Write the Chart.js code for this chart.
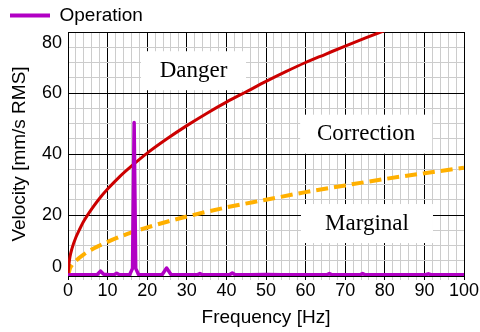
<!DOCTYPE html>
<html>
<head>
<meta charset="utf-8">
<title>Vibration velocity vs frequency</title>
<script src="https://cdn.jsdelivr.net/npm/chart.js@4.4.1/dist/chart.umd.min.js"></script>
<style>
    html, body { margin: 0; padding: 0; background: #fff; }
    #wrap { position: relative; width: 480px; height: 332px; }
</style>
</head>
<body>
<div id="wrap"><canvas id="chart"></canvas></div>
<script>
// Values

// Measured spectrum (purple)
const specFreq = [0, 1, 2, 4, 6, 7.4, 8.2, 9, 10.5, 11.6, 12.3, 13, 15.6, 16.3, 16.7, 17.1, 17.8, 20, 23.8, 24.9,
    26, 29, 32.6, 33.3, 34, 37, 40.8, 41.5, 42.2, 46, 50, 54, 58, 65.3, 66, 66.7, 70, 73.7, 74.4, 75.1,
    80, 85, 90.3, 91, 91.7, 96, 100];
const specVel = [0.3, 0.4, 0.4, 0.4, 0.4, 0.5, 1.6, 0.6, 0.4, 0.4, 0.9, 0.4, 0.5, 2.5, 50.3, 2.5, 0.5, 0.4, 0.5, 2.6,
    0.5, 0.4, 0.4, 0.8, 0.4, 0.4, 0.4, 1.0, 0.4, 0.4, 0.5, 0.4, 0.4, 0.4, 0.8, 0.4, 0.4, 0.4, 0.8, 0.4,
    0.4, 0.4, 0.4, 0.7, 0.4, 0.4, 0.4];

// Danger boundary (red)
const dangerFreq = [0, 0.25, 0.5, 1, 2, 3, 4, 6, 8, 10, 13, 16, 20, 25, 30, 35, 40, 45, 50, 55, 60, 65, 70, 75, 80, 82];
const dangerVel = [0, 4, 6.3, 9, 12.7, 15.5, 18, 22, 25.5, 28.5, 32.5, 36, 40.3, 45, 49.3, 53.3, 57, 60.4, 63.8, 67,
    70, 72.7, 75.4, 78, 80.5, 81.5];

// Marginal boundary (orange, dashed)
const marginFreq = [0, 0.5, 1, 2, 4, 6, 8, 10, 15, 20, 25, 30, 40, 50, 60, 70, 80, 90, 100];
const marginVel = [0, 2.5, 3.6, 5.0, 7.1, 8.7, 10, 11.2, 13.8, 15.9, 17.8, 19.5, 22.5, 25, 27.5, 29.7, 31.8, 33.7, 35.5];

// Zone names
const zoneNames = ['Danger', 'Correction', 'Marginal'];

const PURPLE = '#b100c4';
const RED = '#cc0000';
const ORANGE = '#ffb000';

function toPoints(xs, ys) {
    return xs.map((x, i) => ({ x: x, y: ys[i] }));
}

// white label boxes placed in data units
const zoneLabels = {
    id: 'zoneLabels',
    beforeDatasetsDraw(chart, args, opts) {
        const ctx = chart.ctx;
        const xs = chart.scales.x, ys = chart.scales.y;
        ctx.save();
        ctx.font = opts.font;
        ctx.textAlign = 'center';
        ctx.textBaseline = 'alphabetic';
        opts.names.forEach((name, i) => {
            const cx = xs.getPixelForValue(opts.at[i][0]);
            const cy = ys.getPixelForValue(opts.at[i][1]);
            const w = opts.size[i][0], h = opts.size[i][1];
            ctx.fillStyle = '#fff';
            ctx.fillRect(cx - w / 2, cy - h / 2, w, h);
            ctx.fillStyle = '#000';
            ctx.fillText(name, cx, cy + 6);
        });
        ctx.restore();
    }
};

// nudge the end labels of the y axis inward, like the original
const edgeLabels = {
    id: 'edgeLabels',
    beforeDraw(chart, args, opts) {
        chart.scales.y.getLabelItems().forEach(it => {
            const s = opts.shift[String(it.label)];
            if (s && !it._moved) {
                it.options.translation[1] += s;
                it._moved = true;
            }
        });
    }
};

// fixed legend band height
const legendBand = {
    id: 'legendBand',
    beforeLayout(chart) {
        const lg = chart.legend;
        if (lg && !lg._wrapped) {
            const fit = lg.fit;
            lg.fit = function () {
                fit.call(this);
                this.height = 36;
            };
            lg._wrapped = true;
        }
    }
};

Chart.defaults.font.family = '"Liberation Sans", Arial, sans-serif';
Chart.defaults.color = '#000';

const ctx = document.getElementById('chart').getContext('2d');

const chart = new Chart(ctx, {
    type: 'line',
    data: {
        datasets: [
            {
                label: 'Operation',
                data: toPoints(specFreq, specVel),
                borderColor: PURPLE,
                backgroundColor: PURPLE,
                borderWidth: 3.5,
                borderJoinStyle: 'round',
                borderCapStyle: 'round',
                pointRadius: 0,
                tension: 0
            },
            {
                label: 'Danger limit',
                data: toPoints(dangerFreq, dangerVel),
                borderColor: RED,
                borderWidth: 3,
                pointRadius: 0,
                cubicInterpolationMode: 'monotone'
            },
            {
                label: 'Marginal limit',
                data: toPoints(marginFreq, marginVel),
                borderColor: ORANGE,
                borderWidth: 4,
                borderDash: [12, 6],
                pointRadius: 0,
                cubicInterpolationMode: 'monotone'
            }
        ]
    },
    options: {
        responsive: true,
        maintainAspectRatio: false,
        animation: false,
        layout: { padding: { left: 0, right: 16, top: -4, bottom: 0 } },
        plugins: {
            legend: {
                position: 'top',
                align: 'start',
                labels: {
                    boxWidth: 40,
                    boxHeight: 4,
                    padding: 10,
                    font: { size: 19 },
                    color: '#000',
                    generateLabels: function (chart) {
                        return Chart.defaults.plugins.legend.labels.generateLabels(chart)
                            .filter(l => l.text === 'Operation')
                            .map(l => Object.assign(l, { lineWidth: 0, fillStyle: PURPLE }));
                    }
                }
            },
            tooltip: { enabled: false },
            zoneLabels: {
                names: zoneNames,
                at: [[31.7, 67.3], [75.3, 46.5], [75.5, 17.2]],
                size: [[105, 39], [132, 39], [132, 39]],
                font: '23px "Liberation Serif", "Times New Roman", serif'
            },
            edgeLabels: { shift: { '0': -9.3, '80': 11.3 } }
        },
        scales: {
            x: {
                type: 'linear',
                min: 0,
                max: 100,
                afterFit: function (scale) { scale.height = 56; },
                ticks: {
                    stepSize: 2,
                    autoSkip: false,
                    maxRotation: 0,
                    padding: 0,
                    font: { size: 18 },
                    callback: v => (v % 10 === 0 ? String(v) : '')
                },
                grid: {
                    color: c => (c.tick && c.tick.value % 10 === 0 ? '#000' : '#cccccc'),
                    lineWidth: 1,
                    tickLength: 4
                },
                border: { color: '#000' },
                title: {
                    display: true,
                    text: 'Frequency [Hz]',
                    font: { size: 19 },
                    padding: { top: 0, bottom: 3 }
                }
            },
            y: {
                min: 0,
                max: 80,
                afterFit: function (scale) { scale.width = 68; },
                ticks: {
                    stepSize: 5,
                    autoSkip: false,
                    padding: 6,
                    font: { size: 18 },
                    callback: v => (v % 20 === 0 ? String(v) : '')
                },
                grid: {
                    color: c => (c.tick && c.tick.value % 20 === 0 ? '#000' : '#cccccc'),
                    lineWidth: 1,
                    drawTicks: false
                },
                border: { color: '#000' },
                title: {
                    display: true,
                    text: 'Velocity [mm/s RMS]',
                    font: { size: 19 },
                    padding: { top: 8, bottom: 0 }
                }
            }
        }
    },
    plugins: [legendBand, zoneLabels, edgeLabels]
});
</script>
</body>
</html>
